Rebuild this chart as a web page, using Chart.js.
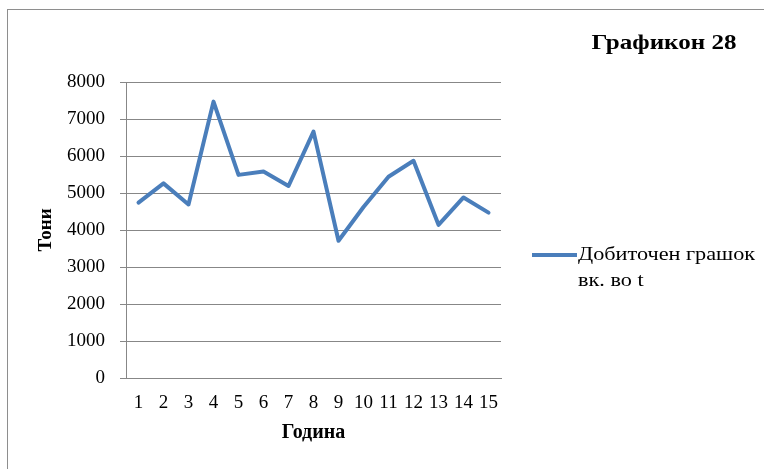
<!DOCTYPE html>
<html><head><meta charset="utf-8">
<script src="https://cdn.jsdelivr.net/npm/chart.js@4.4.0/dist/chart.umd.min.js"></script>
<style>html,body{margin:0;padding:0;background:#fff;}#wrap{width:764px;height:469px;position:relative;}</style>
</head><body><div id="wrap"><canvas id="c" width="764" height="469"></canvas></div>
<script>
const chartTitle = 'Графикон 28';
const seriesName = 'Добиточен грашок вк. во t';
const seriesNameLines = ['Добиточен грашок', 'вк. во t'];
const xAxisTitle = 'Година';
const yAxisTitle = 'Тони';
const years = ['1','2','3','4','5','6','7','8','9','10','11','12','13','14','15'];
const tonnes = [4740, 5260, 4690, 7470, 5490, 5580, 5190, 6660, 3710, 4620, 5440, 5870, 4140, 4880, 4470];
const yMin = 0, yMax = 8000, yStep = 1000;

const LINE = '#4a7ebb';
const GRID = '#878787';
const FAMILY = "'Liberation Serif', 'Times New Roman', serif";

Chart.defaults.font.family = FAMILY;
Chart.defaults.color = '#000';

function stretchedText(ctx, text, x, y, sx) {
  ctx.save();
  ctx.translate(x, y);
  ctx.scale(sx, 1);
  ctx.fillText(text, 0, 0);
  ctx.restore();
}

const decor = {
  id: 'decor',
  afterDraw(chart) {
    const ctx = chart.ctx;
    ctx.save();
    // outer frame
    ctx.strokeStyle = '#8e8e8e';
    ctx.lineWidth = 1;
    ctx.strokeRect(7.5, 9.5, 800, 500);
    // title
    ctx.fillStyle = '#000';
    ctx.font = 'bold 22px ' + FAMILY;
    ctx.textAlign = 'center';
    ctx.textBaseline = 'middle';
    stretchedText(ctx, chartTitle, 664, 43, 1.14);
    // legend
    const ds = chart.data.datasets[0];
    ctx.strokeStyle = ds.borderColor;
    ctx.lineWidth = 4;
    ctx.lineCap = 'butt';
    ctx.beginPath();
    ctx.moveTo(532, 255);
    ctx.lineTo(577, 255);
    ctx.stroke();
    ctx.font = '19px ' + FAMILY;
    ctx.textAlign = 'left';
    seriesNameLines.forEach((t, i) => stretchedText(ctx, t, 578, 255 + i * 26, 1.17));
    ctx.restore();
  }
};

new Chart(document.getElementById('c'), {
  type: 'line',
  data: {
    labels: years,
    datasets: [{
      label: seriesName,
      data: tonnes,
      borderColor: LINE,
      backgroundColor: LINE,
      borderWidth: 4,
      pointRadius: 0,
      tension: 0,
      fill: false,
      borderJoinStyle: 'round',
      borderCapStyle: 'round'
    }]
  },
  options: {
    responsive: false,
    animation: false,
    devicePixelRatio: 1,
    layout: { padding: { top: 82, right: 263, left: 0, bottom: 0 } },
    plugins: { legend: { display: false }, title: { display: false }, tooltip: { enabled: false } },
    scales: {
      x: {
        type: 'category',
        offset: true,
        grid: { display: false, drawTicks: false, tickLength: 0 },
        border: { display: true, color: GRID, width: 1 },
        ticks: { autoSkip: false, maxRotation: 0, minRotation: 0, padding: 14, font: { size: 19 }, color: '#000' },
        title: { display: true, text: xAxisTitle, font: { size: 20, weight: 'bold' }, color: '#000', padding: { top: 0, bottom: 24 } },
        afterFit(scale) { scale.height = 91; }
      },
      y: {
        min: yMin, max: yMax,
        ticks: { stepSize: yStep, padding: 15, font: { size: 19 }, color: '#000', callback: v => String(v) },
        grid: { color: GRID, lineWidth: 1, drawTicks: true, tickLength: 6, tickColor: GRID },
        border: { display: true, color: GRID, width: 1 },
        title: { display: true, text: yAxisTitle, font: { size: 19, weight: 'bold' }, color: '#000', padding: { top: 35, bottom: 0 } },
        afterFit(scale) { scale.width = 126; }
      }
    }
  },
  plugins: [decor]
});
</script>
</body></html>
